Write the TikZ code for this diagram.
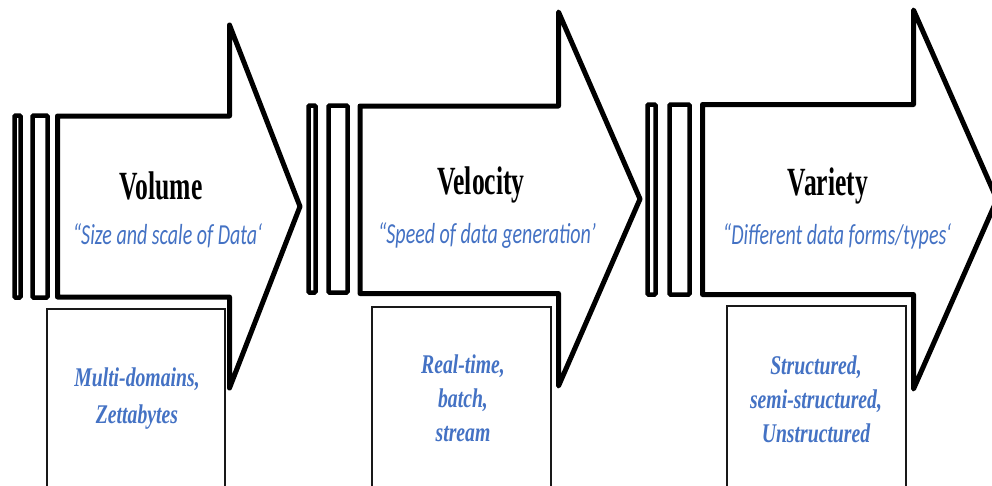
\documentclass[tikz,border=0pt]{standalone}
\usepackage{fontspec}
\newfontfamily\titlefont[FakeStretch=0.64]{Liberation Serif}
\newfontfamily\subfont[FakeStretch=0.69]{Carlito}
\newfontfamily\boxfont[FakeStretch=0.73]{Liberation Serif}
\definecolor{txtblue}{HTML}{4472C4}
\begin{document}
\begin{tikzpicture}[x=1pt,y=-1pt,
  arrowshape/.style={draw=black, line width=5pt, line join=round, fill=white},
  barshape/.style={draw=black, line width=4.5pt, rounded corners=1pt, fill=white},
  databox/.style={draw=black!90, line width=1.8pt, fill=white, minimum width=178pt, minimum height=200pt, inner sep=0pt, anchor=north},
  titletext/.style={anchor=base, inner sep=0pt, text=black, font=\titlefont\bfseries\fontsize{40}{40}\selectfont},
  subtext/.style={anchor=base, inner sep=0pt, text=txtblue, font=\subfont\itshape\fontsize{29}{29}\selectfont},
  boxtext/.style={anchor=center, inner sep=0pt, align=center, text=txtblue, font=\boxfont\bfseries\itshape\fontsize{27}{34}\selectfont}
]
\useasboundingbox (0,0) rectangle (992,485);
\clip (0,0) rectangle (992,485);
\fill[white] (0,0) rectangle (992,485);

% ---- Volume
\draw[barshape] (14.5,115.5) rectangle (20.5,297.5);
\draw[barshape] (32.5,115.5) rectangle (47.5,297.5);
\draw[arrowshape] (57.5,116) -- (229.5,116) -- (229.5,25) -- (300,206.5) -- (229.5,388) -- (229.5,297) -- (57.5,297) -- cycle;
\node[databox, minimum width=178pt] (box1) at (136,308) {};
\node[titletext] (t1) at (161,199) {Volume};
\node[subtext] (s1) at (167.5,244) {“Size and scale of Data‘};
\node[boxtext, font=\boxfont\bfseries\itshape\fontsize{27}{37}\selectfont] (d1) at (137,399) {Multi-domains,\\Zettabytes};

% ---- Velocity
\draw[barshape] (308.5,105.5) rectangle (315.5,292.5);
\draw[barshape] (328.5,105.5) rectangle (347.5,292.5);
\draw[arrowshape] (360,106) -- (558.5,106) -- (558.5,12) -- (640,199) -- (558.5,386) -- (558.5,293.5) -- (360,293.5) -- cycle;
\node[databox, minimum width=179pt] (box2) at (461.5,306) {};
\node[titletext] (t2) at (481,194) {Velocity};
\node[subtext] (s2) at (487,243) {“Speed of data generation’};
\node[boxtext] (d2) at (463,398) {Real-time,\\batch,\\stream};

% ---- Variety
\draw[barshape] (647.5,104.5) rectangle (655.5,294.5);
\draw[barshape] (669.5,104.5) rectangle (689.5,294.5);
\draw[arrowshape] (702.5,104.5) -- (913.5,104.5) -- (913.5,10) -- (997,199.5) -- (913.5,389) -- (913.5,294.5) -- (702.5,294.5) -- cycle;
\node[databox, minimum width=179pt] (box3) at (816.5,305) {};
\node[titletext] (t3) at (828,195) {Variety};
\node[subtext] (s3) at (837,244) {“Different data forms/types‘};
\node[boxtext] (d3) at (816,399) {Structured,\\semi-structured,\\Unstructured};
\end{tikzpicture}
\end{document}
